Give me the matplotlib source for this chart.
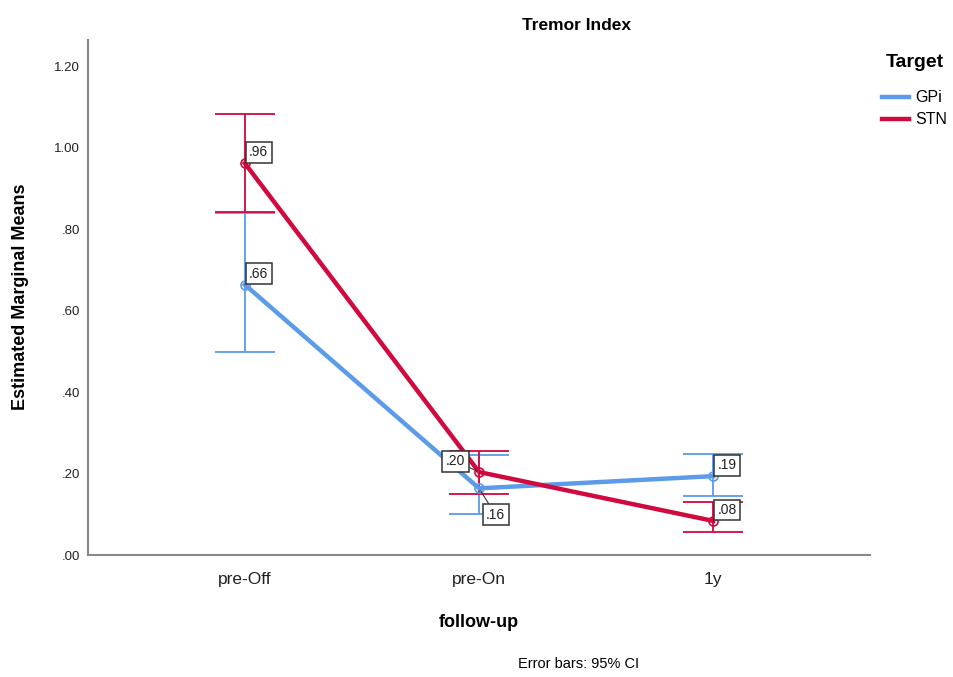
import matplotlib.pyplot as plt

plt.rcParams['font.family'] = ['Liberation Sans', 'DejaVu Sans']

# dados
followup = ['pre-Off', 'pre-On', '1y']
gpi_mean = [0.664, 0.164, 0.194]
gpi_low = [0.50, 0.100, 0.145]
gpi_high = [0.840, 0.245, 0.248]
stn_mean = [0.962, 0.204, 0.084]
stn_low = [0.843, 0.150, 0.058]
stn_high = [1.082, 0.255, 0.130]

cor_gpi = '#5B9BE8'
cor_stn = '#D0093F'

fig = plt.figure(figsize=(9.54, 6.77), dpi=100)
ax = fig.add_axes([0.0922, 0.180, 0.820, 0.761])

x = list(range(len(followup)))

# barras de erro primeiro, linhas por cima
for media, lo, hi, cor in [(gpi_mean, gpi_low, gpi_high, cor_gpi),
                            (stn_mean, stn_low, stn_high, cor_stn)]:
    ax.vlines(x, lo, hi, color=cor, lw=1.3)
    ax.hlines(lo, [i - 0.128 for i in x], [i + 0.128 for i in x], color=cor, lw=1.3)
    ax.hlines(hi, [i - 0.128 for i in x], [i + 0.128 for i in x], color=cor, lw=1.3)

ax.plot(x, gpi_mean, color=cor_gpi, lw=3.2, marker='o', ms=6.5, mfc='none', mec=cor_gpi, mew=1.2, label='GPi')
ax.plot(x, stn_mean, color=cor_stn, lw=3.2, marker='o', ms=6.5, mfc='none', mec=cor_stn, mew=1.2, label='STN')

# rótulos dos pontos (deslocamento em pontos)
desloc_gpi = [(3, 5), (5, -22), (3, 5)]
desloc_stn = [(3, 5), (-24, 5), (3, 5)]

def rotulo(v, xy, off):
    ax.annotate(('%.2f' % v)[1:], xy=xy, xytext=off, textcoords='offset points',
                fontsize=10, color='#222222',
                bbox=dict(boxstyle='square,pad=0.25', fc='white', ec='#333333', lw=1.1),
                arrowprops=dict(arrowstyle='-', color='#333333', lw=0.8, shrinkA=0, shrinkB=2))

for i in x:
    rotulo(gpi_mean[i], (i, gpi_mean[i]), desloc_gpi[i])
    rotulo(stn_mean[i], (i, stn_mean[i]), desloc_stn[i])

ax.set_xlim(-0.67, 2.67)
ax.set_ylim(0, 1.265)
ax.set_xticks(x)
ax.set_xticklabels(followup, fontsize=12.5, color='#222222')
ax.set_yticks([0, 0.2, 0.4, 0.6, 0.8, 1.0, 1.2])
ax.set_yticklabels(['.00', '.20', '.40', '.60', '.80', '1.00', '1.20'], fontsize=9.5, color='#222222')
ax.tick_params(length=0, pad=6)
ax.tick_params(axis='x', pad=12)

for lado in ['top', 'right']:
    ax.spines[lado].set_visible(False)
for lado in ['left', 'bottom']:
    ax.spines[lado].set_color('#888888')
    ax.spines[lado].set_linewidth(1.5)

fig.text(0.604, 0.962, 'Tremor Index', ha='center', va='center', fontsize=12.5, fontweight='bold')
fig.text(0.502, 0.080, 'follow-up', ha='center', va='center', fontsize=13, fontweight='bold')
fig.text(0.022, 0.561, 'Estimated Marginal Means', ha='center', va='center', rotation=90,
         fontsize=13, fontweight='bold')
fig.text(0.606, 0.019, 'Error bars: 95% CI', ha='center', va='center', fontsize=10.5)

leg = fig.legend(loc='upper left', bbox_to_anchor=(0.918, 0.93), frameon=False,
                 title='Target', fontsize=11.5, handlelength=1.65, handletextpad=0.45,
                 labelspacing=0.45, borderaxespad=0)
leg.get_title().set_fontweight('bold')
leg.get_title().set_fontsize(14)
leg._legend_box.sep = 14
for l in leg.get_lines():
    l.set_marker('')
    l.set_linewidth(3.2)

fig.savefig('out.png', dpi=100)
